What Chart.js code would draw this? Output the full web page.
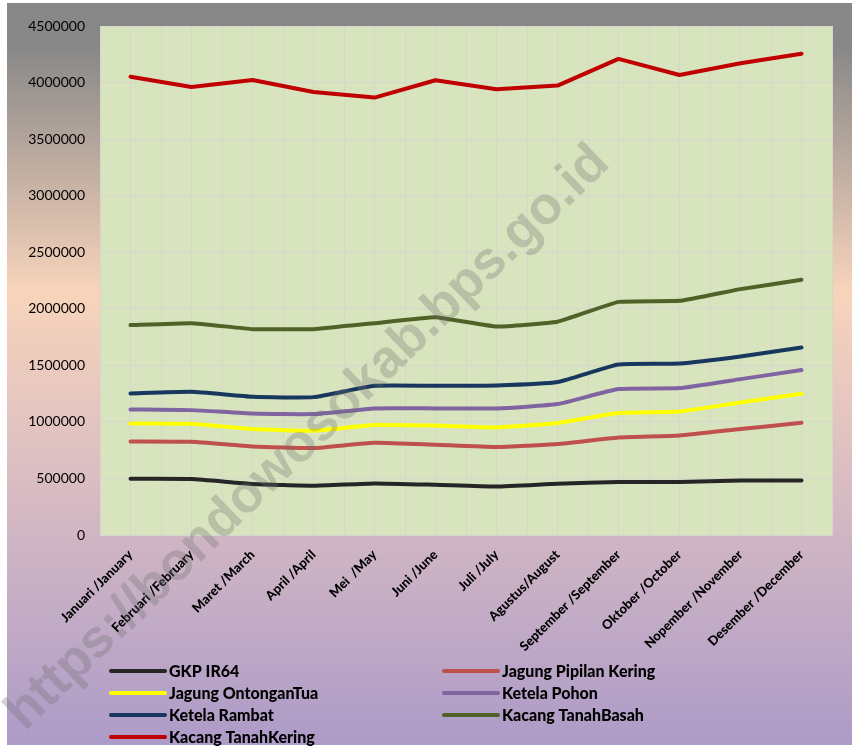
<!DOCTYPE html>
<html>
<head>
<meta charset="utf-8">
<script src="https://cdn.jsdelivr.net/npm/chart.js@4.4.1/dist/chart.umd.min.js"></script>
<style>
  body { margin: 0; background: #ffffff; }
  #caixa { position: relative; width: 852px; height: 752px; }
</style>
</head>
<body>
<div id="caixa"><canvas id="grafico" width="852" height="752"></canvas></div>
<script>
// Categorias (meses)
var meses = [
  "Januari /January", "Februari /February", "Maret /March", "April /April",
  "Mei  /May", "Juni /June", "Juli /July", "Agustus/August",
  "September /September", "Oktober /October", "Nopember /November", "Desember /December"
];

// Séries
var gkpIR64 = [497000, 495000, 451000, 436000, 456000, 444000, 429000, 453000, 468000, 468000, 482000, 482000];
var jagungPipilanKering = [827000, 824000, 783000, 769000, 816000, 798000, 778000, 804000, 862000, 880000, 937000, 992000];
var jagungOntonganTua = [986000, 983000, 937000, 922000, 972000, 968000, 951000, 990000, 1078000, 1092000, 1172000, 1249000];
var ketelaPohon = [1110000, 1104000, 1074000, 1069000, 1119000, 1119000, 1119000, 1158000, 1290000, 1299000, 1378000, 1458000];
var ketelaRambat = [1251000, 1266000, 1222000, 1219000, 1319000, 1319000, 1322000, 1352000, 1507000, 1516000, 1578000, 1658000];
var kacangTanahBasah = [1856000, 1873000, 1820000, 1820000, 1873000, 1926000, 1843000, 1885000, 2061000, 2070000, 2174000, 2256000];
var kacangTanahKering = [4052000, 3961000, 4023000, 3917000, 3867000, 4020000, 3941000, 3973000, 4209000, 4067000, 4171000, 4255000];

// Rótulos do eixo Y
var ticksY = [0, 500000, 1000000, 1500000, 2000000, 2500000, 3000000, 3500000, 4000000, 4500000];

var marcaDagua = "https://bondowosokab.bps.go.id";

// Fundo em degradê e área do gráfico verde
var fundoPlugin = {
  id: "fundo",
  beforeDraw: function (chart) {
    var ctx = chart.ctx;
    var a = chart.chartArea;
    ctx.save();
    var grad = ctx.createLinearGradient(0, 3, 0, 745);
    grad.addColorStop(0, "#878787");
    grad.addColorStop(0.06, "#898888");
    grad.addColorStop(0.39, "#f8d4bb");
    grad.addColorStop(0.62, "#dcbfc2");
    grad.addColorStop(1, "#ad9bc8");
    ctx.fillStyle = grad;
    ctx.fillRect(7, 3, 845, 742);
    ctx.fillStyle = "#d8e4bd";
    ctx.fillRect(a.left, a.top, a.right - a.left, a.bottom - a.top);
    ctx.restore();
  }
};

// Legenda em duas colunas e marca d'água
var legendaPlugin = {
  id: "legenda",
  afterDraw: function (chart) {
    var ctx = chart.ctx;
    ctx.save();
    var colunas = [111, 444];
    chart.data.datasets.forEach(function (ds, i) {
      var x = colunas[i % 2];
      var y = 671 + Math.floor(i / 2) * 22;
      ctx.strokeStyle = ds.borderColor;
      ctx.lineWidth = 4;
      ctx.lineCap = "round";
      ctx.beginPath();
      ctx.moveTo(x, y);
      ctx.lineTo(x + 54, y);
      ctx.stroke();
      ctx.fillStyle = "#000000";
      ctx.font = "900 16px Lato";
      ctx.textBaseline = "middle";
      ctx.textAlign = "left";
      ctx.fillText(ds.label, x + 58, y + 1);
    });

    ctx.translate(308, 438);
    ctx.rotate(-44 * Math.PI / 180);
    ctx.font = "bold 53px 'Liberation Sans'";
    ctx.textAlign = "center";
    ctx.textBaseline = "middle";
    ctx.fillStyle = "rgba(110, 110, 110, 0.3)";
    ctx.fillText(marcaDagua, 0, 0);
    ctx.restore();
  }
};

function serie(label, dados, cor, tensao) {
  return {
    label: label,
    data: dados,
    borderColor: cor,
    backgroundColor: cor,
    borderWidth: 4,
    pointRadius: 0,
    tension: tensao,
    borderCapStyle: "round",
    borderJoinStyle: "round"
  };
}

var ctx = document.getElementById("grafico").getContext("2d");
var grafico = new Chart(ctx, {
  type: "line",
  data: {
    labels: meses,
    datasets: [
      serie("GKP IR64", gkpIR64, "#262626", 0.15),
      serie("Jagung Pipilan Kering", jagungPipilanKering, "#c0504d", 0.15),
      serie("Jagung OntonganTua", jagungOntonganTua, "#ffff00", 0.15),
      serie("Ketela Pohon", ketelaPohon, "#8064a2", 0.15),
      serie("Ketela Rambat", ketelaRambat, "#17375e", 0.15),
      serie("Kacang TanahBasah", kacangTanahBasah, "#4f6228", 0.1),
      serie("Kacang TanahKering", kacangTanahKering, "#c00000", 0)
    ]
  },
  options: {
    responsive: false,
    animation: false,
    layout: { padding: { left: 7, top: 26, right: 20, bottom: 0 } },
    plugins: {
      legend: { display: false },
      tooltip: { enabled: false }
    },
    scales: {
      x: {
        offset: true,
        grid: { color: "#d6d6cc", lineWidth: 1, drawTicks: false, offset: false },
        border: { display: false },
        ticks: {
          autoSkip: false,
          maxRotation: 45,
          minRotation: 45,
          padding: 12,
          color: "#000000",
          font: { family: "Lato", weight: "900", size: 13 }
        },
        afterFit: function (s) { s.height = 217; }
      },
      x2: {
        type: "category",
        position: "top",
        offset: true,
        grid: { color: "#d6d6cc", lineWidth: 1, drawTicks: false, offset: true },
        border: { display: false },
        ticks: { display: false },
        afterFit: function (s) { s.height = 0; }
      },
      y: {
        min: 0,
        max: 4500000,
        grid: { color: "#d6d6cc", lineWidth: 1, drawTicks: false },
        border: { display: false },
        afterBuildTicks: function (s) {
          s.ticks = ticksY.map(function (v) { return { value: v }; });
        },
        ticks: {
          padding: 15,
          color: "#000000",
          font: { family: "Lato", size: 14 },
          callback: function (v) { return String(v); }
        },
        afterFit: function (s) { s.width = 93; }
      }
    }
  },
  plugins: [fundoPlugin, legendaPlugin]
});
</script>
</body>
</html>
